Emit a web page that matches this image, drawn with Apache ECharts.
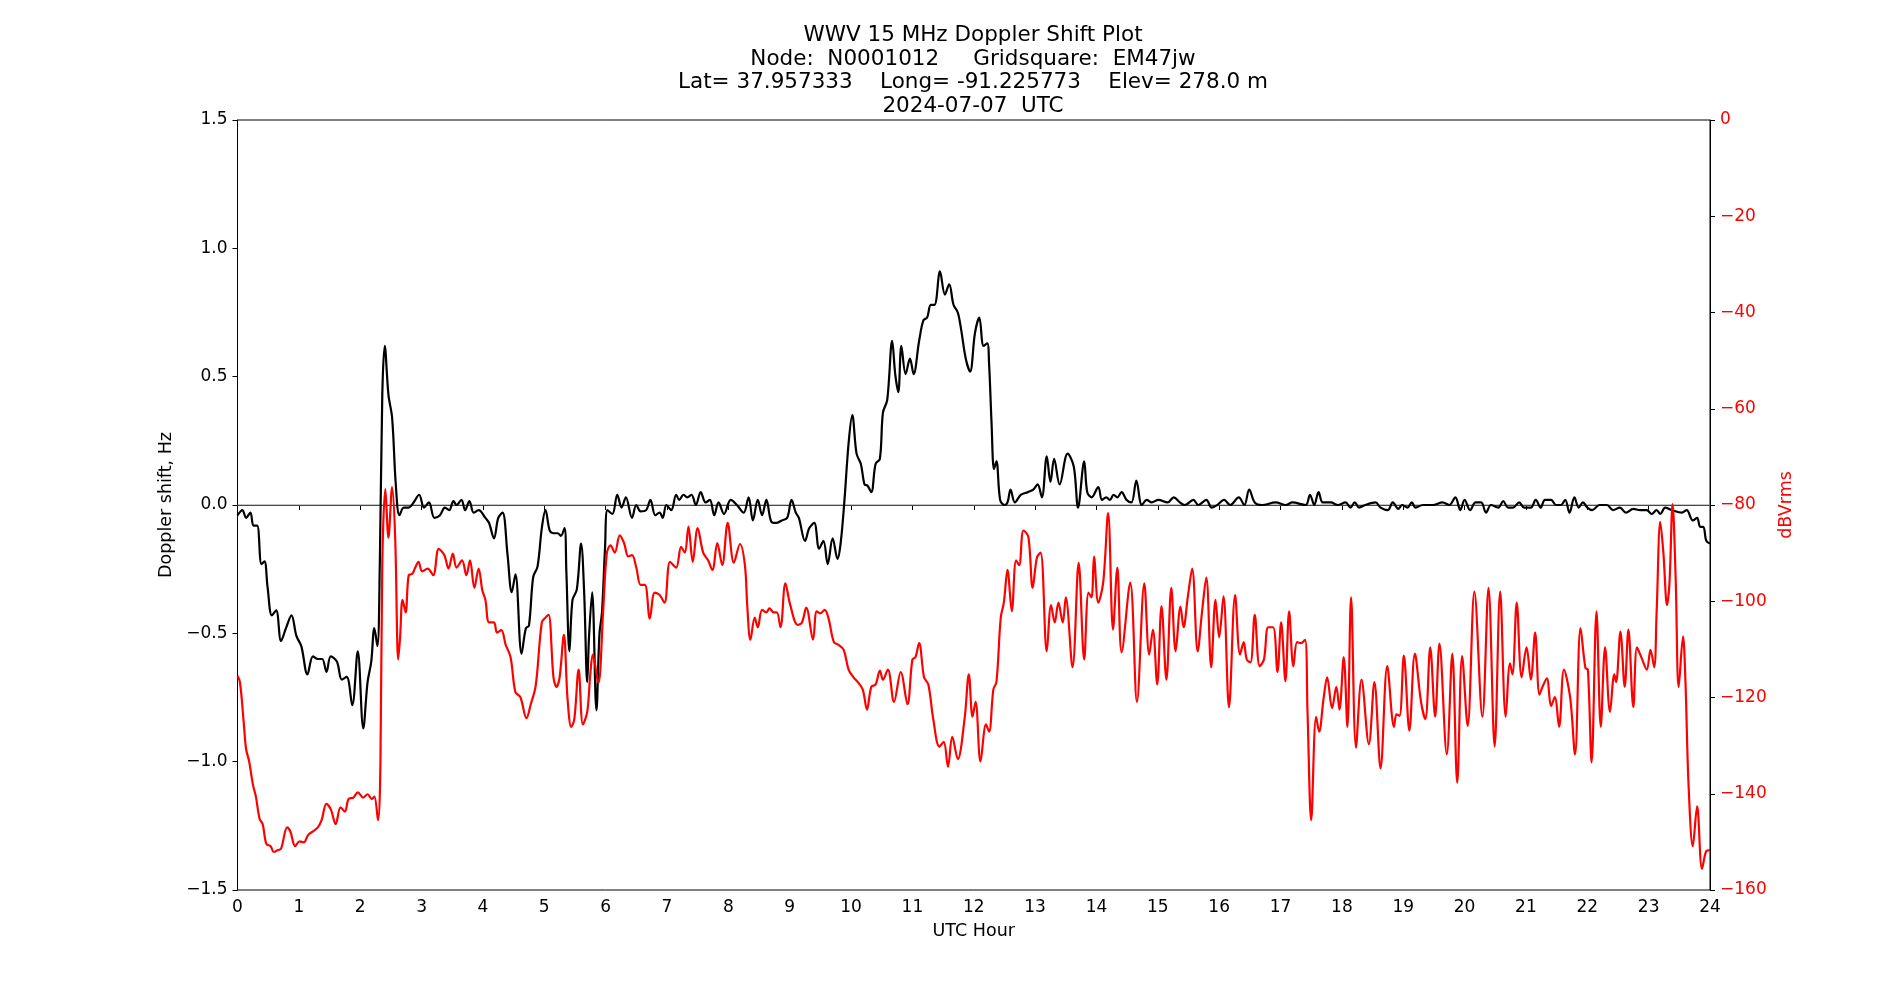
<!DOCTYPE html>
<html>
<head>
<meta charset="utf-8">
<title>WWV 15 MHz Doppler Shift Plot</title>
<script src="https://cdn.jsdelivr.net/npm/echarts@6/dist/echarts.min.js"></script>
<style>
    html, body {margin: 0; padding: 0; background: #fff;}
    #dopplerChart {width: 1900px; height: 1000px;}
</style>
</head>
<body>
<div id="dopplerChart"></div>
<script>
// Doppler shift (Hz), black trace
const dopplerHours = [
    0.00, 0.08, 0.14, 0.21, 0.26, 0.32, 0.39, 0.44, 0.49, 0.56, 0.63, 0.71, 0.79, 0.88, 0.96,
    1.04, 1.14, 1.23, 1.31, 1.38, 1.45, 1.52, 1.62, 1.70, 1.78, 1.87, 1.96,
    2.05, 2.12, 2.18, 2.23, 2.28, 2.32, 2.36, 2.40, 2.46, 2.52, 2.58, 2.64, 2.71, 2.79, 2.87, 2.96,
    3.04, 3.12, 3.21, 3.30, 3.38, 3.45, 3.52, 3.57, 3.65, 3.71, 3.78, 3.85, 3.93,
    4.04, 4.10, 4.18, 4.25, 4.32, 4.40, 4.47, 4.53, 4.63, 4.70, 4.75, 4.82, 4.89, 4.96,
    5.02, 5.09, 5.16, 5.22, 5.27, 5.33, 5.36, 5.41, 5.46, 5.53, 5.60, 5.65, 5.70, 5.73, 5.78, 5.85, 5.90, 5.94, 5.99,
    6.03, 6.11, 6.19, 6.26, 6.33, 6.43, 6.50, 6.57, 6.66, 6.73, 6.81, 6.88, 6.93, 6.99,
    7.07, 7.15, 7.20, 7.27, 7.33, 7.40, 7.47, 7.55, 7.63, 7.70, 7.77, 7.84, 7.93,
    8.04, 8.14, 8.25, 8.33, 8.40, 8.48, 8.55, 8.62, 8.70, 8.78, 8.87, 8.96,
    9.03, 9.10, 9.15, 9.25, 9.32, 9.40, 9.48, 9.55, 9.62, 9.70, 9.78, 9.83, 9.89, 9.96,
    10.02, 10.09, 10.16, 10.22, 10.27, 10.33, 10.40, 10.47, 10.52, 10.59, 10.67, 10.72, 10.77, 10.82, 10.89, 10.96,
    11.02, 11.11, 11.18, 11.24, 11.30, 11.36, 11.45, 11.53, 11.60, 11.67, 11.74, 11.79, 11.87, 11.94,
    12.02, 12.09, 12.16, 12.22, 12.25, 12.29, 12.33, 12.37, 12.43, 12.50, 12.55, 12.60, 12.67, 12.77, 12.88, 12.97,
    13.04, 13.11, 13.19, 13.25, 13.31, 13.40, 13.53, 13.63, 13.70, 13.80, 13.85, 13.92,
    14.03, 14.09, 14.16, 14.22, 14.28, 14.34, 14.41, 14.49, 14.57, 14.65, 14.74, 14.82, 14.90,
    15.01, 15.16, 15.26, 15.36, 15.44, 15.58, 15.66, 15.79, 15.88, 15.97,
    16.08, 16.18, 16.32, 16.41, 16.49, 16.58, 16.70, 16.92,
    17.09, 17.19, 17.41, 17.48, 17.55, 17.62, 17.69, 17.82, 17.93,
    18.06, 18.14, 18.21, 18.28, 18.38, 18.55, 18.63, 18.75, 18.83, 18.92, 18.98,
    19.07, 19.14, 19.20, 19.32, 19.48, 19.64, 19.75, 19.85, 19.93,
    20.00, 20.09, 20.18, 20.27, 20.35, 20.43, 20.55, 20.63, 20.71, 20.79, 20.89, 20.97,
    21.08, 21.16, 21.24, 21.31, 21.41, 21.49, 21.57, 21.64, 21.71, 21.79, 21.86, 21.93,
    22.00, 22.08, 22.20, 22.32, 22.42, 22.53, 22.63, 22.75, 22.86, 22.97,
    23.05, 23.13, 23.19, 23.27, 23.38, 23.54, 23.62, 23.72, 23.79, 23.84, 23.89, 23.94, 24.00
];
const dopplerHz = [
    -0.04, -0.02, -0.05, -0.03, -0.08, -0.08, -0.23, -0.22, -0.32, -0.43, -0.41, -0.53, -0.48, -0.43, -0.51,
    -0.55, -0.66, -0.59, -0.60, -0.60, -0.65, -0.59, -0.61, -0.68, -0.67, -0.78, -0.57,
    -0.87, -0.69, -0.61, -0.48, -0.55, -0.22, 0.43, 0.62, 0.43, 0.34, 0.08, -0.04, -0.01, -0.01, 0.01, 0.04,
    -0.01, 0.01, -0.05, -0.04, -0.01, -0.02, 0.015, 0.0, 0.02, -0.02, 0.015, -0.03, -0.02,
    -0.05, -0.07, -0.13, -0.05, -0.03, -0.19, -0.34, -0.27, -0.58, -0.48, -0.47, -0.28, -0.24, -0.09,
    -0.02, -0.10, -0.11, -0.11, -0.12, -0.09, -0.26, -0.57, -0.37, -0.33, -0.15, -0.34, -0.69, -0.51, -0.34, -0.80, -0.50, -0.42, -0.17,
    -0.02, -0.035, 0.04, -0.01, 0.03, -0.05, 0.0, -0.025, -0.02, 0.02, -0.04, -0.03, -0.05, 0.0,
    -0.02, 0.04, 0.02, 0.04, 0.03, 0.04, 0.0, 0.05, 0.01, 0.02, -0.04, 0.01, -0.035,
    0.02, 0.0, -0.03, 0.03, -0.06, 0.02, -0.04, 0.02, -0.065, -0.07, -0.06, -0.05,
    0.02, -0.03, -0.05, -0.14, -0.09, -0.07, -0.17, -0.14, -0.23, -0.13, -0.21, -0.15, 0.01, 0.24,
    0.35, 0.20, 0.16, 0.08, 0.075, 0.05, 0.16, 0.18, 0.36, 0.41, 0.64, 0.51, 0.44, 0.62, 0.51, 0.57,
    0.51, 0.64, 0.72, 0.73, 0.78, 0.78, 0.91, 0.82, 0.86, 0.78, 0.75, 0.69, 0.57, 0.52,
    0.67, 0.73, 0.62, 0.63, 0.55, 0.32, 0.14, 0.17, 0.02, 0.0, 0.01, 0.06, 0.01, 0.04, 0.05, 0.06,
    0.08, 0.03, 0.19, 0.09, 0.18, 0.08, 0.20, 0.15, -0.01, 0.17, 0.05, 0.03,
    0.07, 0.02, 0.03, 0.02, 0.04, 0.03, 0.05, 0.02, 0.01, 0.095, 0.0, 0.02, 0.01,
    0.02, 0.01, 0.03, 0.01, 0.0, 0.02, 0.0, 0.02, -0.01, 0.0,
    0.02, 0.0, 0.03, 0.0, 0.06, 0.01, 0.0, 0.01,
    0.0, 0.01, 0.0, 0.04, 0.0, 0.05, 0.01, 0.01, 0.0,
    0.01, -0.01, 0.01, -0.01, 0.0, 0.01, -0.01, -0.02, 0.01, -0.015, 0.0,
    -0.01, 0.01, -0.01, 0.0, 0.0, 0.01, 0.0, 0.03, -0.02,
    0.02, -0.02, 0.01, 0.01, -0.03, 0.0, -0.01, 0.015, -0.01, -0.01, 0.01, -0.01,
    -0.01, 0.02, -0.01, 0.02, 0.02, 0.0, 0.0, 0.02, -0.03, 0.03, -0.01, 0.01,
    -0.01, -0.02, 0.0, 0.0, -0.02, -0.01, -0.03, -0.015, -0.02, -0.02,
    -0.035, -0.02, -0.035, -0.01, -0.02, -0.03, -0.02, -0.06, -0.05, -0.085, -0.085, -0.14, -0.15
];

// received power (dBVrms), red trace
const powerHours = [
    0.00, 0.04, 0.10, 0.14, 0.19, 0.25, 0.30, 0.36, 0.41, 0.47, 0.54, 0.59, 0.66, 0.71, 0.81, 0.86, 0.94,
    1.01, 1.08, 1.15, 1.23, 1.31, 1.37, 1.45, 1.52, 1.60, 1.68, 1.75, 1.81, 1.89, 1.96,
    2.05, 2.12, 2.19, 2.23, 2.29, 2.33, 2.36, 2.41, 2.46, 2.52, 2.57, 2.62, 2.65, 2.69, 2.74, 2.79, 2.85, 2.89, 2.95,
    3.01, 3.10, 3.19, 3.28, 3.37, 3.44, 3.51, 3.57, 3.66, 3.73, 3.79, 3.86, 3.93, 3.99,
    4.04, 4.10, 4.18, 4.23, 4.30, 4.37, 4.45, 4.53, 4.61, 4.71, 4.78, 4.86, 4.96,
    5.02, 5.07, 5.15, 5.20, 5.25, 5.32, 5.38, 5.44, 5.49, 5.56, 5.63, 5.70, 5.75, 5.79, 5.88, 5.96,
    6.02, 6.08, 6.15, 6.23, 6.30, 6.37, 6.43, 6.50, 6.57, 6.64, 6.72, 6.80, 6.88, 6.96,
    7.05, 7.15, 7.23, 7.29, 7.35, 7.42, 7.50, 7.59, 7.67, 7.74, 7.82, 7.90, 7.99,
    8.09, 8.19, 8.27, 8.31, 8.36, 8.43, 8.48, 8.55, 8.62, 8.67, 8.74, 8.79, 8.85, 8.93,
    9.01, 9.13, 9.20, 9.27, 9.38, 9.44, 9.50, 9.57, 9.63, 9.72, 9.79, 9.88, 9.96,
    10.04, 10.11, 10.19, 10.26, 10.33, 10.40, 10.47, 10.52, 10.60, 10.70, 10.81, 10.92,
    11.00, 11.05, 11.11, 11.19, 11.26, 11.34, 11.44, 11.51, 11.58, 11.65, 11.74, 11.85, 11.92, 11.98,
    12.03, 12.11, 12.20, 12.25, 12.32, 12.37, 12.44, 12.49, 12.55, 12.62, 12.69, 12.74, 12.81, 12.89, 12.96,
    13.03, 13.09, 13.19, 13.26, 13.32, 13.38, 13.45, 13.50, 13.61, 13.71, 13.80, 13.87, 13.92, 13.96,
    14.03, 14.11, 14.19, 14.27, 14.34, 14.41, 14.55, 14.66, 14.78, 14.86, 14.92, 14.99,
    15.06, 15.14, 15.22, 15.29, 15.37, 15.42, 15.49, 15.56, 15.65, 15.72, 15.79, 15.87, 15.94,
    16.00, 16.07, 16.16, 16.26, 16.34, 16.40, 16.45, 16.51, 16.58, 16.66, 16.73, 16.80, 16.88, 16.95,
    17.01, 17.08, 17.14, 17.21, 17.27, 17.33, 17.40, 17.44, 17.50, 17.58, 17.63, 17.70, 17.76, 17.84, 17.91, 17.96,
    18.03, 18.09, 18.15, 18.23, 18.32, 18.44, 18.53, 18.63, 18.74, 18.85, 18.89, 18.94,
    19.01, 19.10, 19.19, 19.29, 19.36, 19.44, 19.52, 19.59, 19.71, 19.80, 19.88, 19.96,
    20.05, 20.16, 20.29, 20.39, 20.49, 20.58, 20.67, 20.74, 20.78, 20.85, 20.93,
    21.01, 21.08, 21.15, 21.22, 21.27, 21.34, 21.41, 21.47, 21.54, 21.62, 21.72, 21.80, 21.89, 21.97,
    22.01, 22.07, 22.15, 22.22, 22.29, 22.37, 22.44, 22.47, 22.54, 22.61, 22.67, 22.75, 22.81, 22.88, 22.97,
    23.03, 23.09, 23.13, 23.19, 23.24, 23.30, 23.34, 23.39, 23.44, 23.49, 23.56, 23.60, 23.65, 23.72, 23.79, 23.87, 23.94, 24.00
];
const powerDb = [
    -115.5, -116.8, -125, -130.7, -133.3, -138, -140.6, -145.2, -146.3, -150.4, -150.9, -152.1, -151.7, -151.4, -147, -147.8, -150.9,
    -149.9, -150.1, -148.6, -147.8, -147, -145.5, -142.1, -143.2, -146.3, -142.8, -143.7, -141.1, -140.8, -139.7,
    -140.8, -140.1, -141.1, -140.6, -145.5, -133.3, -92, -76.7, -86.8, -76.3, -86.8, -112.1, -107.5, -99.7, -102.3, -94.6, -94.3, -93.2, -91.8,
    -93.8, -93.2, -94.6, -89.1, -90.4, -93.2, -90.1, -93, -91.5, -94.6, -91.5, -97.2, -93.2, -97.7,
    -99.7, -104.4, -104.4, -106.5, -106, -109, -111.6, -118.9, -119.9, -124.3, -121.4, -117.6, -104.4,
    -103.4, -102.8, -115.8, -117.8, -115.8, -107, -120.4, -126.1, -124.5, -114.2, -125.6, -123, -115.2, -111.1, -117, -102,
    -90, -88.4, -89.9, -86.3, -87.9, -90.7, -90.4, -93, -96.6, -96.6, -103.6, -98.2, -98.7, -100.3,
    -91.8, -93, -88.7, -89.9, -84.5, -91.8, -84.8, -89.9, -91.5, -93.5, -87.9, -92.5, -83.7,
    -92, -88.1, -92.5, -101.3, -108, -103.4, -105.4, -101.8, -102.3, -101.5, -102.3, -102.3, -105.4, -96.3,
    -100.8, -104.9, -104.4, -101.3, -108, -102.1, -102.5, -101.8, -103.4, -108.5, -109, -110.1, -114.2,
    -115.8, -116.8, -118.3, -122.5, -117.8, -117.3, -114.4, -116.3, -114.2, -120.9, -114.7, -121.4,
    -112.1, -111.6, -108.7, -115.8, -117.3, -124.5, -130.2, -129.2, -134.4, -128.2, -132.8, -124.5, -115.2, -124,
    -120.9, -133.3, -125.6, -127.1, -118.3, -116.8, -103.4, -100.3, -93.5, -102.1, -91.5, -92.5, -85.3, -86.6, -97.2,
    -90.9, -89.9, -110.4, -100.8, -104.4, -100.3, -104.4, -99.2, -113.7, -92, -112.1, -98.2, -99.2, -90.7,
    -100.3, -96.1, -81.7, -105.9, -93, -110.6, -96.1, -120.9, -96.3, -111.1, -105.9, -117.3,
    -101, -116.3, -97.2, -110.4, -101.1, -105.4, -99, -93.2, -110.4, -102.3, -95.1, -113.7, -99.7,
    -107.5, -99, -122, -98.7, -111.1, -108.5, -112.1, -112.7, -102.8, -113.5, -112.1, -105.4, -105.4, -114.7,
    -104.4, -116.6, -102.1, -113.5, -108.5, -108.7, -108, -123, -145.5, -124, -127.1, -120.4, -115.8, -122.2, -117.8, -122.5,
    -111.6, -126.1, -99.2, -130.4, -116.3, -129.7, -116.8, -134.7, -113.5, -126.1, -123.5, -123.8,
    -111.3, -126.9, -110.9, -120.9, -124.5, -109.6, -124, -108.8, -131.8, -110.9, -137.7, -111.4,
    -125.9, -98, -124, -97.2, -130.2, -98, -124, -112.9, -115.2, -100.3, -115.8,
    -109.6, -116.3, -106.5, -119.4, -117.8, -116, -121.8, -119.9, -126.1, -114.2, -119.9, -131.8, -105.6, -113.9,
    -114.2, -133.5, -102.1, -126.1, -109.6, -123, -115.2, -116.8, -106.3, -117.8, -105.9, -122, -109.6, -111.6, -114.2,
    -110.1, -113.7, -102.3, -83.5, -89.9, -100.8, -96.1, -79.8, -95.1, -117.8, -107.3, -116.8, -138, -150.9, -142.6, -155.6, -151.9, -151.7
];

// zero-shift reference line
const zeroLineHours = [0, 24];
const zeroLineHz = [0, 0];

const titleLines = [
    'WWV 15 MHz Doppler Shift Plot',
    'Node:  N0001012     Gridsquare:  EM47jw',
    'Lat= 37.957333    Long= -91.225773    Elev= 278.0 m',
    '2024-07-07  UTC'
];

const FONT = '"DejaVu Sans", sans-serif';
const minus = v => String(v).replace('-', '\u2212');

const chart = echarts.init(document.getElementById('dopplerChart'), null, {renderer: 'canvas'});

chart.setOption({
    animation: false,
    backgroundColor: '#ffffff',
    textStyle: {fontFamily: FONT},
    title: {
        text: titleLines.join('\n'),
        left: 968,
        top: 19,
        textAlign: 'center',
        textStyle: {
            fontFamily: FONT, fontSize: 21.5, fontWeight: 'normal', color: '#000', lineHeight: 23.5
        }
    },
    grid: {
        left: 237.5, right: 190, top: 120, bottom: 110,
        show: true, borderColor: '#000', borderWidth: 1, backgroundColor: 'transparent'
    },
    xAxis: {
        type: 'value', min: 0, max: 24, interval: 1,
        name: 'UTC Hour', nameLocation: 'middle', nameGap: 32,
        nameTextStyle: {fontFamily: FONT, fontSize: 17.5, color: '#000'},
        axisLine: {lineStyle: {color: '#000', width: 1}},
        axisTick: {length: 5, lineStyle: {color: '#000'}},
        axisLabel: {fontFamily: FONT, fontSize: 17, color: '#000', margin: 9},
        splitLine: {show: false}
    },
    yAxis: [{
        type: 'value', min: -1.5, max: 1.5, interval: 0.5, position: 'left',
        name: 'Doppler shift, Hz', nameLocation: 'middle', nameGap: 62, nameRotate: 90,
        nameTextStyle: {fontFamily: FONT, fontSize: 17.5, color: '#000'},
        axisLine: {show: true, lineStyle: {color: '#000', width: 1}},
        axisTick: {show: true, length: 5, lineStyle: {color: '#000'}},
        axisLabel: {
            fontFamily: FONT, fontSize: 17, color: '#000', margin: 10,
            formatter: v => minus(v.toFixed(1))
        },
        splitLine: {show: false}
    }, {
        type: 'value', min: -160, max: 0, interval: 20, position: 'right',
        name: 'dBVrms', nameLocation: 'middle', nameGap: 62, nameRotate: 90,
        nameTextStyle: {fontFamily: FONT, fontSize: 17.5, color: '#ff0000'},
        axisLine: {show: true, lineStyle: {color: '#000', width: 1}},
        axisTick: {show: true, length: 5, lineStyle: {color: '#000'}},
        axisLabel: {
            fontFamily: FONT, fontSize: 17, color: '#ff0000', margin: 10,
            formatter: v => minus(v)
        },
        splitLine: {show: false}
    }],
    series: [{
        name: 'zero',
        type: 'line',
        yAxisIndex: 0,
        data: zeroLineHours.map((h, i) => [h, zeroLineHz[i]]),
        showSymbol: false,
        silent: true,
        lineStyle: {color: '#909090', width: 1.2},
        z: 1
    }, {
        name: 'Doppler shift',
        type: 'line',
        yAxisIndex: 0,
        data: dopplerHours.map((h, i) => [h, dopplerHz[i]]),
        showSymbol: false,
        smooth: 0.35,
        lineStyle: {color: '#000000', width: 2.2},
        z: 2
    }, {
        name: 'Power',
        type: 'line',
        yAxisIndex: 1,
        data: powerHours.map((h, i) => [h, powerDb[i]]),
        showSymbol: false,
        smooth: 0.35,
        lineStyle: {color: '#ff0000', width: 2.2},
        z: 3
    }]
});
</script>
</body>
</html>
